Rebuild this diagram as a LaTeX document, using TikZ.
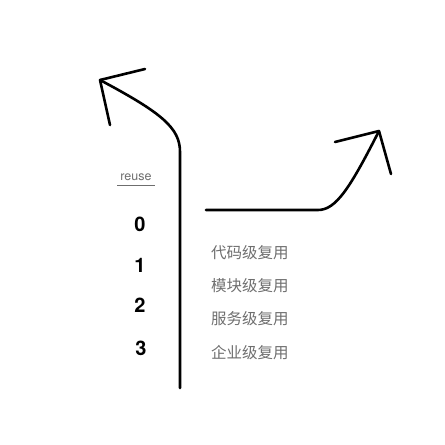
\documentclass[tikz,border=0pt]{standalone}
\usepackage{fontspec}
\setmainfont{TeX Gyre Heros}
\newfontfamily\cjk{Noto Sans CJK SC}
\usepackage{tikz}
\usetikzlibrary{positioning}

\definecolor{txtgray}{HTML}{6E6E6E}
\tikzset{
    stroke/.style={line width=2.6pt, line cap=round, line join=round},
    digit/.style={font=\fontsize{20}{20}\selectfont\bfseries, inner sep=0pt},
    reusename/.style={font=\cjk\fontsize{15.5}{16}\selectfont, text=txtgray, inner sep=0pt, anchor=west},
}

\begin{document}
\begin{tikzpicture}[x=1pt, y=1pt]
    \useasboundingbox (0,0) rectangle (445,-445);
    % arrow points
    \coordinate (lbase) at (180,-388);
    \coordinate (ltip) at (100,-80);
    \coordinate (rbase) at (206,-210);
    \coordinate (rtip) at (379,-131);
    % reuse heading
    \node[font=\fontsize{12.5}{13}\selectfont, text=txtgray, inner sep=0pt](reuse) at (136,-177) {reuse};
    \draw[txtgray, line width=0.8pt] (117,-185) -- (155,-185);
    % levels
    \node[digit](l0) at (140,-224) {0};
    \node[digit](l1) at (140,-265) {1};
    \node[digit](l2) at (140,-305) {2};
    \node[digit](l3) at (141,-348) {3};
    % names
    \node[reusename](n1) at (211,-253) {代码级复用};
    \node[reusename](n2) at (211,-286) {模块级复用};
    \node[reusename](n3) at (211,-319) {服务级复用};
    \node[reusename](n4) at (211,-353) {企业级复用};
    % arrows
    \draw[stroke] (lbase) -- (180,-152) .. controls (180,-128) and (162,-113) .. (ltip);
    \draw[stroke] (145,-69) -- (ltip) -- (110,-125);
    \draw[stroke] (rbase) -- (318,-210) .. controls (336,-210) and (350,-188) .. (rtip);
    \draw[stroke] (335,-142) -- (rtip) -- (391,-174);
\end{tikzpicture}
\end{document}
